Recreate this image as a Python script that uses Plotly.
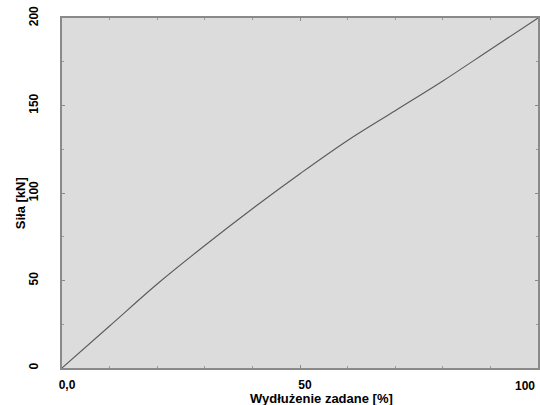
import plotly.graph_objects as go

elong = [0, 10, 20, 30, 40, 50, 60, 70, 80, 90, 100]
force = [0, 24, 48, 70, 91, 111, 130, 147, 164, 182, 200]
x_ticks = [0, 50, 100]
x_labels = ["0,0", "50", "100"]
y_ticks = [0, 50, 100, 150, 200]
y_labels = ["0", "50", "100", "150", "200"]

# last x label is drawn right-aligned at its tick (as in the reference), others by the axis
x_text = x_labels[:-1] + [""]

fig = go.Figure()
fig.add_trace(go.Scatter(x=elong, y=force, mode="lines", line=dict(color="#5a5a5a", width=1.1),
                         line_shape="spline", showlegend=False, cliponaxis=False, hoverinfo="skip"))

fam = "Liberation Sans, Arial, sans-serif"
tfont = dict(family=fam, size=12, color="black", weight="bold")
fig.update_layout(
    width=540, height=405,
    margin=dict(l=62, r=2, t=18, b=37, autoexpand=False),
    paper_bgcolor="white", plot_bgcolor="#dcdcdc",
    font=dict(family=fam, size=12, color="black"),
)
fig.update_xaxes(range=[0, 100], tickvals=x_ticks, ticktext=x_text,
                 ticks="inside", ticklen=3, tickcolor="#8a8a8a", automargin=False,
                 minor=dict(dtick=10, ticks="inside", ticklen=2, tickcolor="#9a9a9a"),
                 ticklabelstandoff=5, ticklabelshift=5,
                 showgrid=False, zeroline=False, showline=True, linecolor="#8a8a8a", linewidth=1.5, mirror="ticks",
                 tickfont=tfont)
fig.update_yaxes(range=[0, 200], tickvals=y_ticks, ticktext=y_labels, tickangle=-90,
                 ticks="inside", ticklen=3, tickcolor="#8a8a8a", automargin=False,
                 minor=dict(dtick=25, ticks="inside", ticklen=2, tickcolor="#9a9a9a"),
                 ticklabeloverflow="allow",
                 showgrid=False, zeroline=False, showline=True, linecolor="#8a8a8a", linewidth=1.5, mirror="ticks",
                 tickfont=tfont,
                 ticklabelstandoff=17)
fig.add_annotation(text="<b>%s</b>" % x_labels[-1], xref="x", yref="paper",
                   x=x_ticks[-1], y=-0.051, xanchor="right", yanchor="middle", xshift=-1, showarrow=False,
                   font=dict(family=fam, size=12, color="black"))
fig.add_annotation(text="<b>Wydłużenie zadane [%]</b>", xref="paper", yref="paper",
                   x=0.546, y=-0.086, xanchor="center", yanchor="middle", showarrow=False,
                   font=dict(family=fam, size=13, color="black"))
fig.add_annotation(text="<b>Siła [kN]</b>", xref="paper", yref="paper",
                   x=-0.088, y=0.471, xanchor="center", yanchor="middle", showarrow=False, textangle=-90,
                   font=dict(family=fam, size=13, color="black"))
fig.write_html("out.html", config={"displayModeBar": False},
               post_script="document.body.style.margin='0';document.body.style.overflow='hidden';")
